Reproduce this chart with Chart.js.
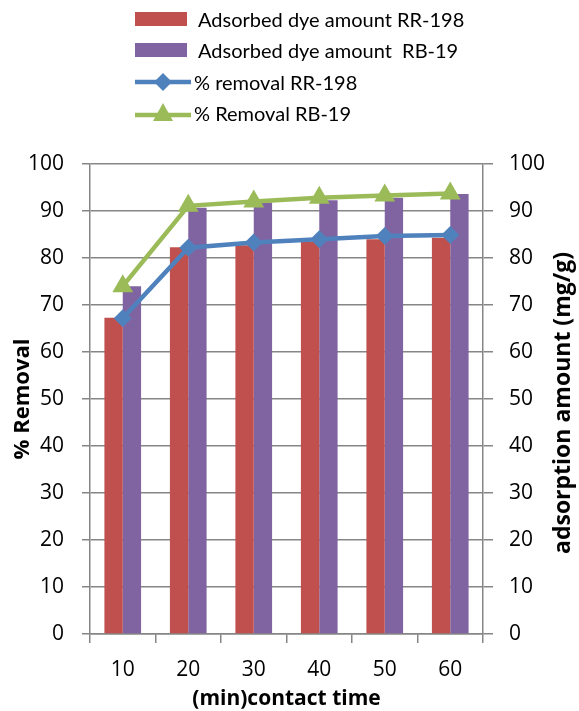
<!DOCTYPE html>
<html>
<head>
<meta charset="utf-8">
<script src="https://cdn.jsdelivr.net/npm/chart.js@4.4.1/dist/chart.umd.min.js"></script>
<style>
  html, body { margin: 0; padding: 0; background: #fff; }
  #wrap { position: relative; width: 579px; height: 711px; overflow: hidden; }
  #c { position: absolute; left: 0; top: 0; }
  .item { position: absolute; left: 135px; display: flex; align-items: center; white-space: pre;
          font-family: Lato, sans-serif; font-size: 20px; color: #000; line-height: 24px; }
  .box { display: inline-block; width: 52px; height: 14px; margin-right: 11px; }
  #rtitle { position: absolute; left: 561px; top: 403px; transform: translate(-50%, -50%) rotate(-90deg);
            font-family: 'Open Sans', sans-serif; font-weight: bold; font-size: 23px; white-space: nowrap; color: #000; }
</style>
</head>
<body>
<div id="wrap">
  <canvas id="c" width="579" height="711"></canvas>
  <div id="legend"></div>
  <div id="rtitle"></div>
</div>
<script>
const times = ['10', '20', '30', '40', '50', '60'];
const adsorbedRR198 = [67.3, 82.3, 82.7, 83.4, 84.0, 84.3];
const adsorbedRB19 = [74.0, 90.7, 91.8, 92.3, 92.8, 93.6];
const removalRR198 = [67.2, 82.2, 83.3, 84.0, 84.7, 84.9];
const removalRB19 = [74.0, 91.1, 92.0, 92.8, 93.3, 93.7];

const seriesLabels = ['Adsorbed dye amount RR-198', 'Adsorbed dye amount  RB-19',
  '% removal RR-198', '% Removal RB-19'];
const red = 'rgb(192,80,77)';
const purple = 'rgb(128,100,162)';
const blue = 'rgb(79,129,189)';
const green = 'rgb(155,187,89)';
const gridColor = '#868686';

// legend built from the same labels and colours
const legendTops = [7, 38, 70, 101];
const legend = document.getElementById('legend');
const swatches = [
  '<span class="box" style="background:' + red + '"></span>',
  '<span class="box" style="background:' + purple + '"></span>',
  '<svg width="58" height="22" style="margin-right:1px"><line x1="0" y1="11" x2="56" y2="11" stroke="' + blue + '" stroke-width="4.5"/>' +
    '<polygon points="28,2 37,11 28,20 19,11" fill="' + blue + '"/></svg>',
  '<svg width="58" height="22" style="margin-right:1px"><line x1="0" y1="13" x2="56" y2="13" stroke="' + green + '" stroke-width="4.5"/>' +
    '<polygon points="28,1 38,19 18,19" fill="' + green + '"/></svg>'
];
seriesLabels.forEach((label, i) => {
  const div = document.createElement('div');
  div.className = 'item';
  div.style.top = legendTops[i] + 'px';
  div.innerHTML = swatches[i];
  div.appendChild(document.createTextNode(label));
  legend.appendChild(div);
});
// right axis title reads bottom to top, like the left one
document.getElementById('rtitle').textContent = 'adsorption amount (mg/g)';

const tickFont = { family: 'Open Sans', size: 21 };

new Chart(document.getElementById('c'), {
  type: 'bar',
  data: {
    labels: times,
    datasets: [
      {
        type: 'line', label: seriesLabels[2], data: removalRR198, yAxisID: 'y',
        borderColor: blue, backgroundColor: blue, borderWidth: 4.5,
        pointStyle: 'rectRot', pointRadius: 9, pointBorderWidth: 0, tension: 0, order: 0
      },
      {
        type: 'line', label: seriesLabels[3], data: removalRB19, yAxisID: 'y',
        borderColor: green, backgroundColor: green, borderWidth: 4.5,
        pointStyle: 'triangle', pointRadius: 12, pointBorderWidth: 0, tension: 0, order: 0
      },
      {
        label: seriesLabels[0], data: adsorbedRR198, yAxisID: 'y1',
        backgroundColor: red, categoryPercentage: 0.56, barPercentage: 1, order: 1
      },
      {
        label: seriesLabels[1], data: adsorbedRB19, yAxisID: 'y1',
        backgroundColor: purple, categoryPercentage: 0.56, barPercentage: 1, order: 1
      }
    ]
  },
  options: {
    responsive: false,
    animation: false,
    layout: { padding: { top: 164, left: 0, right: 0, bottom: 0 } },
    plugins: { legend: { display: false }, tooltip: { enabled: false } },
    scales: {
      x: {
        grid: { drawOnChartArea: false, tickLength: 9, color: gridColor, lineWidth: 1.5, offset: true },
        border: { color: gridColor, width: 1.5 },
        ticks: { font: tickFont, color: '#000', padding: 14 },
        title: { display: true, text: '(min)contact time', font: { family: 'Open Sans', size: 21, weight: 'bold' },
                 color: '#000', padding: { top: 0, bottom: -1 } },
        afterFit(scale) { scale.height = 77; }
      },
      y: {
        position: 'left', min: 0, max: 100,
        ticks: { stepSize: 10, font: tickFont, color: '#000', padding: 18 },
        grid: { color: gridColor, lineWidth: 1.5, tickLength: 8 },
        border: { color: gridColor, width: 1.5 },
        title: { display: true, text: '% Removal', font: { family: 'Open Sans', size: 22, weight: 'bold' },
                 color: '#000', padding: { top: 10 } },
        afterFit(scale) { scale.width = 90; }
      },
      y1: {
        position: 'right', min: 0, max: 100,
        ticks: { stepSize: 10, font: tickFont, color: '#000', padding: 16 },
        grid: { drawOnChartArea: false, color: gridColor, lineWidth: 1.5, tickLength: 10 },
        border: { color: gridColor, width: 1.5 },
        afterFit(scale) { scale.width = 96; }
      }
    }
  }
});
</script>
</body>
</html>
